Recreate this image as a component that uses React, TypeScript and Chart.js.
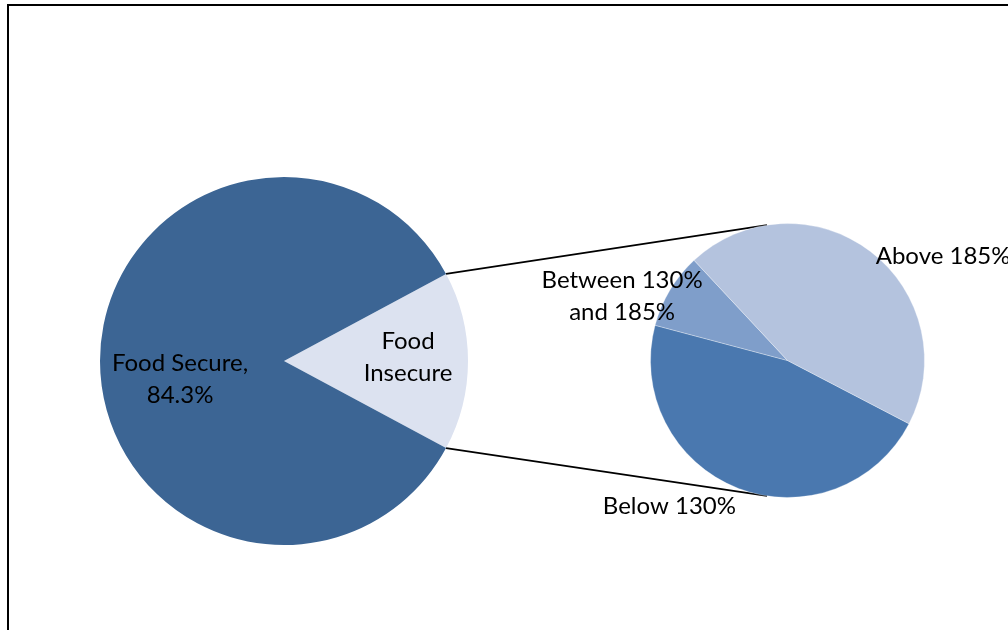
import React, { useEffect, useRef } from "react";
import { Chart, registerables } from "chart.js";

Chart.register(...registerables);

// Households by food security status (percent of all households)
const mainLabels = ["Food Insecure", "Food Secure"];
const mainValues = [15.7, 84.3];
const mainColors = ["#DCE2F0", "#3C6594"];

// Food-insecure households broken out by income-to-poverty ratio
const incomeLabels = ["Below 130%", "Between 130% and 185%", "Above 185%"];
const incomeValues = [7.3, 1.4, 7.0];
const incomeColors = ["#4A78AF", "#7F9ECA", "#B4C3DE"];

const LABEL_FONT = '24px Lato, "Open Sans", sans-serif';
const LINE_HEIGHT = 32;
const W = 1008;
const H = 630;

type LabelItem = { lines: string[]; dx: number; dy: number; align?: CanvasTextAlign };

// Draws multi-line slice labels, placed relative to the pie centre in radius units
const sliceLabels = {
  id: "sliceLabels",
  afterDatasetsDraw(chart: any, _args: any, opts: any) {
    const arc: any = chart.getDatasetMeta(0).data[0];
    if (!arc) return;
    const { x, y, outerRadius } = arc;
    const ctx = chart.ctx;
    ctx.save();
    ctx.font = LABEL_FONT;
    ctx.fillStyle = "#000";
    ctx.textBaseline = "middle";
    (opts.items as LabelItem[]).forEach((item) => {
      ctx.textAlign = item.align || "center";
      const cx = x + item.dx * outerRadius;
      const cy = y + item.dy * outerRadius;
      const n = item.lines.length;
      item.lines.forEach((t, i) => {
        ctx.fillText(t, cx, cy + (i - (n - 1) / 2) * LINE_HEIGHT);
      });
    });
    ctx.restore();
  },
};

export default function App() {
  const mainRef = useRef<HTMLCanvasElement>(null);
  const subRef = useRef<HTMLCanvasElement>(null);

  useEffect(() => {
    if (!mainRef.current || !subRef.current) return;
    const mainTotal = mainValues.reduce((a, b) => a + b, 0);
    const insecureShare = mainValues[0] / mainTotal;

    const mainChart = new Chart(mainRef.current, {
      type: "pie",
      data: {
        labels: mainLabels,
        datasets: [
          {
            data: mainValues,
            backgroundColor: mainColors,
            borderWidth: 0,
          },
        ],
      },
      options: {
        responsive: false,
        animation: false,
        events: [],
        // centre the food-insecure slice on the right-hand side
        rotation: 90 - insecureShare * 180,
        layout: { padding: { left: 100, right: 540, top: 177, bottom: 85 } },
        plugins: {
          legend: { display: false },
          tooltip: { enabled: false },
          sliceLabels: {
            items: [
              { lines: ["Food", "Insecure"], dx: 0.674, dy: -0.019 },
              { lines: ["Food Secure,", `${mainValues[1]}%`], dx: -0.565, dy: 0.098 },
            ],
          },
        } as any,
      },
      plugins: [sliceLabels],
    });

    // Lines joining the food-insecure slice to the breakout pie
    const connectors = {
      id: "connectors",
      beforeDatasetsDraw(chart: any) {
        const src: any = mainChart.getDatasetMeta(0).data[0];
        const dst: any = chart.getDatasetMeta(0).data[0];
        if (!src || !dst) return;
        const tilt = (8.6 * Math.PI) / 180;
        const a1 = src.startAngle;
        const a2 = src.endAngle;
        const t1 = -Math.PI / 2 - tilt;
        const t2 = Math.PI / 2 + tilt;
        const ctx = chart.ctx;
        ctx.save();
        ctx.strokeStyle = "#000";
        ctx.lineWidth = 1.8;
        ctx.beginPath();
        ctx.moveTo(src.x + src.outerRadius * Math.cos(a1), src.y + src.outerRadius * Math.sin(a1));
        ctx.lineTo(dst.x + dst.outerRadius * Math.cos(t1), dst.y + dst.outerRadius * Math.sin(t1));
        ctx.moveTo(src.x + src.outerRadius * Math.cos(a2), src.y + src.outerRadius * Math.sin(a2));
        ctx.lineTo(dst.x + dst.outerRadius * Math.cos(t2), dst.y + dst.outerRadius * Math.sin(t2));
        ctx.stroke();
        ctx.restore();
      },
    };

    const subChart = new Chart(subRef.current, {
      type: "pie",
      data: {
        labels: incomeLabels,
        datasets: [
          {
            data: incomeValues,
            backgroundColor: incomeColors,
            borderColor: "rgba(255,255,255,0.3)",
            borderWidth: 1,
          },
        ],
      },
      options: {
        responsive: false,
        animation: false,
        events: [],
        rotation: 117.5,
        layout: { padding: { left: 650, right: 83, top: 223, bottom: 132 } },
        plugins: {
          legend: { display: false },
          tooltip: { enabled: false },
          sliceLabels: {
            items: [
              { lines: ["Below 130%"], dx: -0.862, dy: 1.065 },
              { lines: ["Between 130%", "and 185%"], dx: -1.207, dy: -0.469 },
              { lines: ["Above 185%"], dx: 0.644, dy: -0.76, align: "left" },
            ],
          },
        } as any,
      },
      plugins: [connectors, sliceLabels],
    });

    return () => {
      subChart.destroy();
      mainChart.destroy();
    };
  }, []);

  return (
    <div
      style={{
        position: "absolute",
        left: 0,
        top: 0,
        width: W,
        height: H,
        overflow: "hidden",
        background: "#fff",
      }}
    >
      <div
        style={{
          position: "absolute",
          left: 7,
          top: 4,
          width: W + 50,
          height: H + 50,
          borderLeft: "2px solid #000",
          borderTop: "2px solid #000",
        }}
      />
      <canvas
        ref={mainRef}
        width={W}
        height={H}
        style={{ position: "absolute", left: 0, top: 0 }}
      />
      <canvas
        ref={subRef}
        width={W}
        height={H}
        style={{ position: "absolute", left: 0, top: 0 }}
      />
    </div>
  );
}
